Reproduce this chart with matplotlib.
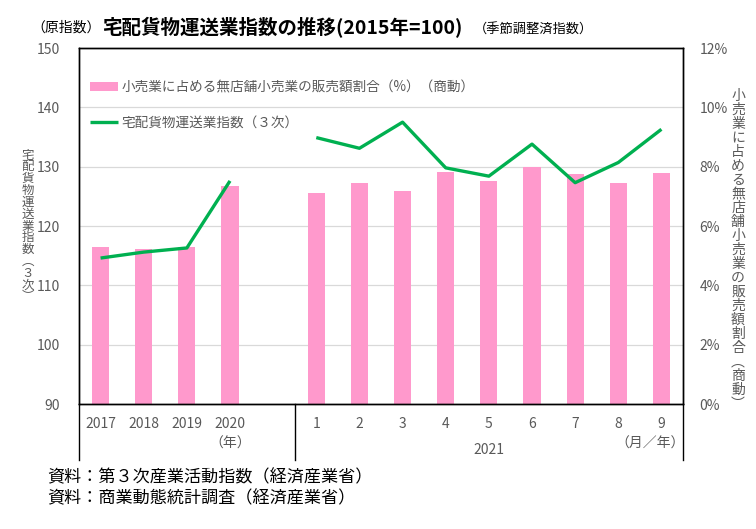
import numpy as np
import matplotlib
matplotlib.use("Agg")
import matplotlib.pyplot as plt
from matplotlib.ticker import PercentFormatter

plt.rcParams['font.family'] = ['Noto Sans CJK JP', 'DejaVu Sans']

# ====== データ ======
categories = ["2017", "2018", "2019", "2020", "", "1", "2", "3", "4", "5", "6", "7", "8", "9"]
# 宅配貨物運送業指数（３次）, 2015年=100
delivery_index = [114.6, 115.6, 116.3, 127.6, np.nan,
                  134.9, 133.1, 137.5, 129.8, 128.4, 133.8, 127.3, 130.7, 136.3]
# 小売業に占める無店舗小売業の販売額割合（%）
nonstore_share = [5.30, 5.24, 5.30, 7.36, np.nan,
                  7.10, 7.44, 7.18, 7.82, 7.52, 7.98, 7.74, 7.46, 7.80]

label_bar = "小売業に占める無店舗小売業の販売額割合（%）（商動）"
label_line = "宅配貨物運送業指数（３次）"

GRAY = "#595959"
PINK = "#FF99CC"
GREEN = "#00B050"

W, H = 756, 529
x = np.arange(len(categories))

fig = plt.figure(figsize=(W / 100, H / 100), dpi=100)
ax = fig.add_axes([79 / W, 1 - 404 / H, 604 / W, 356 / H])
ax2 = ax.twinx()
ax.set_zorder(2)
ax2.set_zorder(1)
ax.patch.set_visible(False)

# 棒（右軸）
bars = ax2.bar(x, np.array(nonstore_share) / 100, width=0.4, color=PINK, zorder=2,
               label=label_bar)
ax2.set_ylim(0, 0.12)
ax2.set_yticks(np.arange(0, 0.121, 0.02))
ax2.yaxis.set_major_formatter(PercentFormatter(1.0, decimals=0))
ax2.grid(axis="y", color="#D9D9D9", lw=0.9, zorder=0)
ax2.tick_params(axis="y", length=0, labelsize=10, labelcolor=GRAY, pad=12)

# 折れ線（左軸）
line, = ax.plot(x, delivery_index, color=GREEN, lw=2.4, label=label_line,
                solid_capstyle="butt")
ax.set_ylim(90, 150)
ax.set_yticks(np.arange(90, 151, 10))
ax.tick_params(axis="y", length=0, labelsize=10, labelcolor=GRAY, pad=14)
ax.set_xlim(-0.5, len(categories) - 0.5)
ax.set_xticks(x)
ax.set_xticklabels(categories)
ax.tick_params(axis="x", length=0, labelsize=10, labelcolor=GRAY, pad=9)

for a in (ax, ax2):
    for s in a.spines.values():
        s.set_color("black")
        s.set_linewidth(1.0)

# 下の区切り線
tr = ax.get_xaxis_transform()
for xv in (-0.5, 4.5, len(categories) - 0.5):
    ax.plot([xv, xv], [0, -0.157], transform=tr, color="black", lw=1.0, clip_on=False)
ax.text(3, -0.112, "（年）", transform=tr, ha="center", va="center", fontsize=10, color=GRAY)
ax.text(9, -0.129, "2021", transform=tr, ha="center", va="center", fontsize=10, color=GRAY)
ax.text(12.73, -0.112, "（月／年）", transform=tr, ha="center", va="center", fontsize=10, color=GRAY)

# 凡例
ax.legend(handles=[bars, line], loc="upper left", bbox_to_anchor=(0.01, 0.925),
          frameon=False, fontsize=9.8, labelcolor=GRAY, labelspacing=1.6,
          handlelength=2.0, handletextpad=0.3, borderaxespad=0)


# 軸ラベル（縦書き：1文字ずつ配置）
def vtext(s, xc, y0, y1, size):
    step = (y1 - y0) / (len(s) - 1)
    for i, ch in enumerate(s):
        fig.text(xc / W, 1 - (y0 + i * step) / H, ch, ha="center", va="center",
                 fontsize=size, color=GRAY)


vtext("宅配貨物運送業指数︵３次︶", 28, 155, 297, 9)
vtext("小売業に占める無店舗小売業の販売額割合︵商動︶", 738, 96, 404, 10)

# タイトル
fig.text(66 / W, 1 - 28 / H, "（原指数）", ha="center", va="center", fontsize=10, color="black")
fig.text(282 / W, 1 - 28 / H, "宅配貨物運送業指数の推移(2015年=100)", ha="center", va="center",
         fontsize=14, fontweight="bold", color="black")
fig.text(533 / W, 1 - 30 / H, "（季節調整済指数）", ha="center", va="center", fontsize=9.5, color="black")

# 出典
fig.text(47 / W, 1 - 477 / H, "資料：第３次産業活動指数（経済産業省）", ha="left", va="center",
         fontsize=12.3, color="black")
fig.text(47 / W, 1 - 498 / H, "資料：商業動態統計調査（経済産業省）", ha="left", va="center",
         fontsize=12.3, color="black")

fig.savefig("out.png", dpi=100)
